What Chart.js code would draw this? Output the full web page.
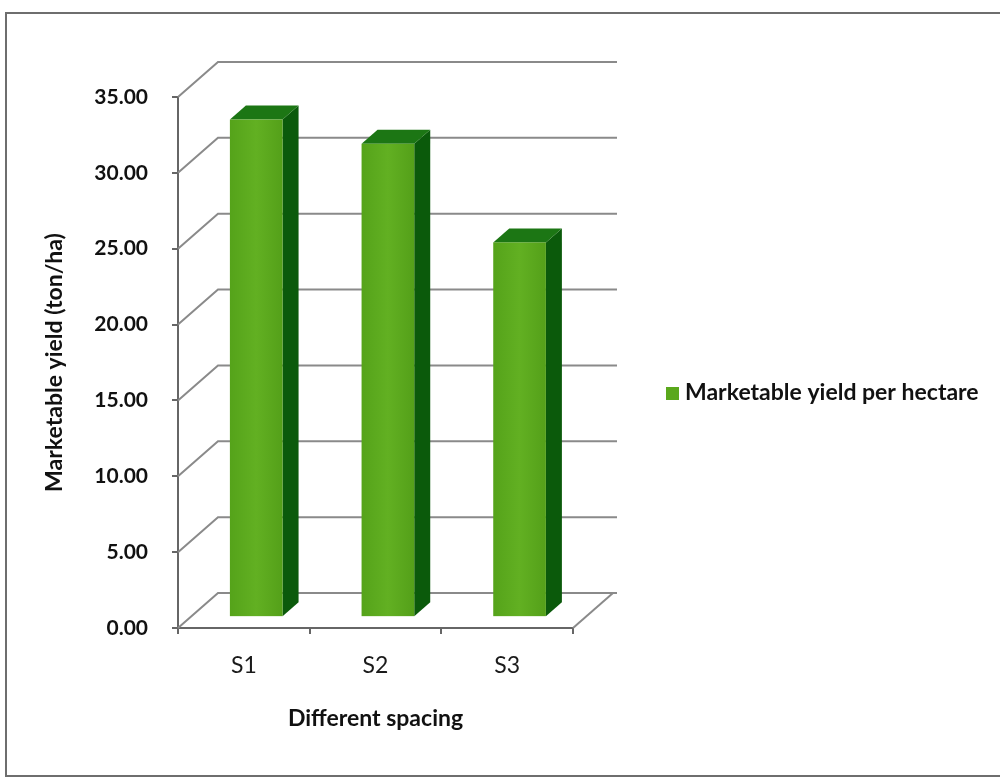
<!DOCTYPE html>
<html>
<head>
<meta charset="utf-8">
<script src="https://cdn.jsdelivr.net/npm/chart.js@4"></script>
<style>
  html, body { margin: 0; padding: 0; background: #fff; }
  #wrap { position: relative; width: 1000px; height: 777px; overflow: hidden; }
  #frame { position: absolute; left: 5px; top: 12px; width: 1000px; height: 761px; border: 2px solid #6e6e6e; border-right: none; }
  canvas { position: absolute; left: 0; top: 0; }
</style>
</head>
<body>
<div id="wrap">
  <div id="frame"></div>
  <canvas id="c" width="1000" height="777"></canvas>
</div>
<script>
// marketable yield, 3D-style bar chart
const categories = ['S1', 'S2', 'S3'];
const yieldValues = [32.8, 31.2, 24.7];
const seriesName = 'Marketable yield per hectare';
const yMax = 35, yStep = 5;

const FONT = 'Lato, "DejaVu Sans", sans-serif';
const FRONT = '#5aa81c', SIDE = '#0b5a0b', TOP = '#1c7614', GRID = '#8a8a8a';
const DX = 40, DY = -35, F0 = 0.31, F1 = 0.71;   // depth of the back wall, bar slab position

const threeD = {
  id: 'threeD',
  beforeDatasetsDraw(chart) {
    const { ctx, chartArea: a, scales: { y } } = chart;
    ctx.save();
    ctx.strokeStyle = GRID; ctx.lineWidth = 2;
    y.ticks.forEach(t => {
      const py = y.getPixelForValue(t.value);
      ctx.beginPath(); ctx.moveTo(a.left, py); ctx.lineTo(a.left + DX, py + DY); ctx.lineTo(a.right + DX + 4, py + DY); ctx.stroke();
    });
    ctx.beginPath(); ctx.moveTo(a.right, a.bottom); ctx.lineTo(a.right + DX, a.bottom + DY); ctx.stroke();
    // bars
    const fx = DX * F0, fy = DY * F0, bx = DX * F1, by = DY * F1;
    chart.getDatasetMeta(0).data.forEach(b => {
      const l = b.x - b.width / 2 + fx, r = b.x + b.width / 2 + fx, t = b.y + fy, bt = b.base + fy;
      const dx = bx - fx, dy = by - fy;
      ctx.fillStyle = SIDE;
      ctx.beginPath(); ctx.moveTo(r, t); ctx.lineTo(r + dx, t + dy); ctx.lineTo(r + dx, bt + dy); ctx.lineTo(r, bt); ctx.closePath(); ctx.fill();
      ctx.fillStyle = TOP;
      ctx.beginPath(); ctx.moveTo(l, t); ctx.lineTo(l + dx, t + dy); ctx.lineTo(r + dx, t + dy); ctx.lineTo(r, t); ctx.closePath(); ctx.fill();
      const g = ctx.createLinearGradient(l, 0, r, 0);
      g.addColorStop(0, '#55a31a'); g.addColorStop(0.5, '#62b022'); g.addColorStop(1, '#54a019');
      ctx.fillStyle = g; ctx.fillRect(l, t, r - l, bt - t);
    });
    ctx.restore();
    return false;
  },
  afterDraw(chart) {
    const ctx = chart.ctx, ds = chart.data.datasets[0];
    ctx.save();
    ctx.fillStyle = FRONT; ctx.fillRect(666, 387, 13, 13);
    ctx.fillStyle = '#111'; ctx.font = 'bold 23px ' + FONT; ctx.textBaseline = 'middle';
    ctx.fillText(ds.label, 685, 393);
    ctx.restore();
  }
};

new Chart(document.getElementById('c'), {
  type: 'bar',
  data: { labels: categories, datasets: [{ label: seriesName, data: yieldValues, backgroundColor: FRONT,
    categoryPercentage: 0.8, barPercentage: 0.5 }] },
  options: {
    responsive: false, animation: false, events: [],
    layout: { padding: { top: 97, right: 427, left: 0, bottom: 0 } },
    plugins: { legend: { display: false }, tooltip: { enabled: false } },
    scales: {
      x: {
        afterFit: s => { s.height = 149; },
        grid: { display: true, drawOnChartArea: false, tickLength: 6, color: '#666', lineWidth: 2 },
        border: { display: true, color: '#666', width: 2 },
        ticks: { color: '#1a1a1a', padding: 18, font: { family: FONT, size: 23 } },
        title: { display: true, text: 'Different spacing', color: '#111', padding: { top: 0, bottom: 45 },
          font: { family: FONT, size: 23, weight: 'bold' } }
      },
      y: {
        min: 0, max: yMax,
        afterFit: s => { s.width = 178; },
        grid: { display: true, drawOnChartArea: false, tickLength: 6, color: '#666', lineWidth: 2 },
        border: { display: true, color: '#666', width: 2 },
        ticks: { stepSize: yStep, color: '#111', padding: 24, font: { family: FONT, size: 21, weight: 'bold' },
          callback: v => v.toFixed(2) },
        title: { display: true, text: 'Marketable yield (ton/ha)', color: '#111', padding: { top: 41, bottom: 0 },
          font: { family: FONT, size: 23, weight: 'bold' } }
      }
    }
  },
  plugins: [threeD]
});
</script>
</body>
</html>
